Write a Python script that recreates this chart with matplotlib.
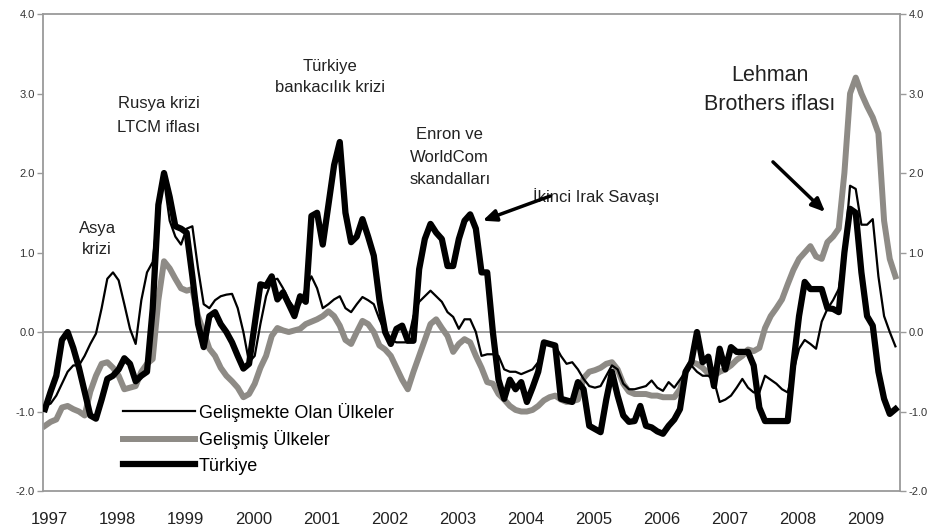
import matplotlib
matplotlib.use("Agg")
import matplotlib.pyplot as plt
from matplotlib.ticker import FixedLocator, NullLocator

plt.rcParams["font.family"] = ["Liberation Sans", "DejaVu Sans"]
plt.rcParams["axes.unicode_minus"] = False

# monthly observations, Jan 1997 .. Jul 2009
start_year = 1997
years = list(range(1997, 2010))

gelismekte = [
    -0.93, -0.90, -0.80, -0.65, -0.50, -0.42, -0.42, -0.30, -0.15, -0.02,
    0.30, 0.67, 0.75, 0.65, 0.35, 0.04, -0.15, 0.40, 0.75, 0.88,
    1.55, 1.92, 1.40, 1.20, 1.10, 1.30, 1.33, 0.80, 0.35, 0.30,
    0.40, 0.45, 0.47, 0.48, 0.30, 0.00, -0.38, -0.30, 0.10, 0.45,
    0.65, 0.67, 0.55, 0.40, 0.30, 0.35, 0.55, 0.70, 0.55, 0.30,
    0.35, 0.41, 0.45, 0.30, 0.25, 0.35, 0.44, 0.40, 0.35, 0.16,
    0.00, -0.10, -0.13, -0.13, -0.13, 0.20, 0.38, 0.45, 0.52, 0.45,
    0.38, 0.25, 0.19, 0.04, 0.16, 0.16, 0.00, -0.30, -0.28, -0.28,
    -0.30, -0.47, -0.50, -0.50, -0.53, -0.50, -0.47, -0.38, -0.13, -0.15,
    -0.17, -0.30, -0.40, -0.38, -0.47, -0.59, -0.68, -0.70, -0.68, -0.55,
    -0.42, -0.47, -0.65, -0.72, -0.72, -0.70, -0.68, -0.61, -0.70, -0.74,
    -0.63, -0.70, -0.60, -0.50, -0.42, -0.50, -0.55, -0.55, -0.61, -0.88,
    -0.85, -0.80, -0.70, -0.59, -0.70, -0.76, -0.76, -0.55, -0.60, -0.65,
    -0.72, -0.76, -0.50, -0.21, -0.10, -0.15, -0.21, 0.13, 0.29, 0.40,
    0.54, 1.00, 1.84, 1.80, 1.35, 1.35, 1.42, 0.70, 0.20, 0.00,
    -0.18,
]

gelismis = [
    -1.18, -1.13, -1.10, -0.95, -0.93, -0.97, -1.00, -1.05, -0.75, -0.55,
    -0.40, -0.38, -0.45, -0.55, -0.72, -0.70, -0.68, -0.50, -0.40, -0.34,
    0.40, 0.89, 0.80, 0.67, 0.55, 0.52, 0.54, 0.20, 0.00, -0.21,
    -0.30, -0.45, -0.55, -0.62, -0.70, -0.82, -0.78, -0.65, -0.45, -0.30,
    -0.05, 0.05, 0.02, 0.00, 0.02, 0.04, 0.10, 0.13, 0.16, 0.20,
    0.26, 0.20, 0.08, -0.10, -0.15, 0.00, 0.14, 0.10, 0.00, -0.17,
    -0.22, -0.30, -0.45, -0.60, -0.72, -0.50, -0.30, -0.10, 0.10, 0.16,
    0.05, -0.05, -0.25, -0.15, -0.09, -0.13, -0.30, -0.45, -0.63, -0.65,
    -0.78, -0.85, -0.93, -0.98, -1.00, -1.00, -0.98, -0.93, -0.86, -0.82,
    -0.80, -0.85, -0.88, -0.87, -0.85, -0.58, -0.50, -0.48, -0.45, -0.40,
    -0.38, -0.47, -0.65, -0.75, -0.78, -0.78, -0.78, -0.80, -0.80, -0.82,
    -0.82, -0.82, -0.72, -0.50, -0.38, -0.40, -0.45, -0.52, -0.55, -0.50,
    -0.47, -0.42, -0.35, -0.30, -0.22, -0.24, -0.20, 0.05, 0.20, 0.30,
    0.41, 0.60, 0.78, 0.92, 1.00, 1.08, 0.95, 0.92, 1.13, 1.20,
    1.30, 2.00, 3.00, 3.20, 3.00, 2.84, 2.70, 2.50, 1.40, 0.92,
    0.70,
]

turkiye = [
    -0.97, -0.75, -0.55, -0.10, 0.00, -0.20, -0.45, -0.75, -1.05, -1.09,
    -0.85, -0.59, -0.55, -0.47, -0.33, -0.40, -0.62, -0.55, -0.50, 0.29,
    1.60, 2.00, 1.70, 1.33, 1.30, 1.25, 0.70, 0.10, -0.19, 0.20,
    0.25, 0.10, 0.00, -0.13, -0.30, -0.46, -0.40, 0.10, 0.60, 0.58,
    0.70, 0.41, 0.50, 0.35, 0.20, 0.45, 0.38, 1.46, 1.50, 1.10,
    1.60, 2.10, 2.39, 1.50, 1.13, 1.20, 1.42, 1.20, 0.96, 0.40,
    0.00, -0.15, 0.04, 0.08, -0.11, -0.11, 0.79, 1.17, 1.36, 1.25,
    1.17, 0.83, 0.83, 1.17, 1.40, 1.48, 1.30, 0.75, 0.75, 0.00,
    -0.60, -0.84, -0.60, -0.72, -0.63, -0.88, -0.70, -0.50, -0.13, -0.15,
    -0.17, -0.84, -0.86, -0.88, -0.63, -0.72, -1.18, -1.22, -1.26, -0.85,
    -0.50, -0.80, -1.05, -1.13, -1.12, -0.93, -1.18, -1.20, -1.25, -1.28,
    -1.18, -1.10, -0.97, -0.50, -0.38, 0.00, -0.38, -0.31, -0.68, -0.21,
    -0.47, -0.19, -0.25, -0.25, -0.25, -0.42, -0.95, -1.12, -1.12, -1.12,
    -1.12, -1.12, -0.40, 0.20, 0.63, 0.54, 0.54, 0.54, 0.30, 0.29,
    0.25, 1.00, 1.55, 1.50, 0.75, 0.20, 0.08, -0.50, -0.84, -1.03,
    -0.97,
]

months = list(range(len(turkiye)))
yticks = [-2.0, -1.0, 0.0, 1.0, 2.0, 3.0, 4.0]

grey = "#8e8b86"
frame = "#9a9a9a"

fig = plt.figure(figsize=(9.4, 5.31), dpi=100)
ax = fig.add_axes([0.0457, 0.0753, 0.9117, 0.8983])

ax.axhline(0, color=frame, lw=1.3, zorder=1)
l1, = ax.plot(months, gelismekte, color="black", lw=1.6, zorder=3)
l2, = ax.plot(months, gelismis, color=grey, lw=4.3, zorder=2,
              solid_joinstyle="round")
l3, = ax.plot(months, turkiye, color="black", lw=4.5, zorder=4,
              solid_joinstyle="round")

ax.set_xlim(-0.35, 150.8)
ax.set_ylim(-2.0, 4.0)

ax.xaxis.set_major_locator(FixedLocator([12 * (y - start_year) + 0.8 for y in years]))
ax.set_xticklabels([str(y) for y in years], fontsize=12, color="#222222")
ax.tick_params(axis="x", length=0, pad=15)

ax.set_yticks(yticks)
ax.set_yticklabels([f"{v:.1f}" for v in yticks], fontsize=8, color="#333333")
ax.tick_params(axis="y", length=4, width=1, color=frame, pad=2,
               right=True, labelright=True)
ax.yaxis.set_minor_locator(NullLocator())

for side in ["left", "right", "top", "bottom"]:
    ax.spines[side].set_color(frame)
    ax.spines[side].set_linewidth(1.3)

txt = dict(fontsize=12, color="#222222", ha="center", va="center")
ax.text(9.2, 1.17, "Asya\nkrizi", linespacing=1.5, **txt)
ax.text(20.1, 2.72, "Rusya krizi\nLTCM iflası", linespacing=1.75, **txt)
ax.text(50.3, 3.21, "Türkiye\nbankacılık krizi", linespacing=1.5, **txt)
ax.text(71.4, 2.2, "Enron ve\nWorldCom\nskandalları", linespacing=1.65, **txt)
ax.text(86.1, 1.70, "İkinci Irak Savaşı", fontsize=12, color="#222222",
        ha="left", va="center")
ax.text(127.9, 3.05, "Lehman\nBrothers iflası", fontsize=15.5, color="#222222",
        ha="center", va="center", linespacing=1.5)

arrow = dict(arrowstyle="-|>,head_length=0.8,head_width=0.35", color="black",
             lw=2.5, shrinkA=0, shrinkB=0)
ax.annotate("", xy=(77.2, 1.40), xytext=(89.1, 1.71), arrowprops=arrow)
ax.annotate("", xy=(137.6, 1.51), xytext=(128.4, 2.14), arrowprops=arrow)

ax.legend([l1, l2, l3],
          ["Gelişmekte Olan Ülkeler", "Gelişmiş Ülkeler", "Türkiye"],
          loc="upper left", bbox_to_anchor=(0.0933, 0.185), frameon=False,
          fontsize=13, handlelength=4.0, handletextpad=0.2,
          labelspacing=0.47, borderpad=0, borderaxespad=0)

fig.savefig("out.png", dpi=100)
